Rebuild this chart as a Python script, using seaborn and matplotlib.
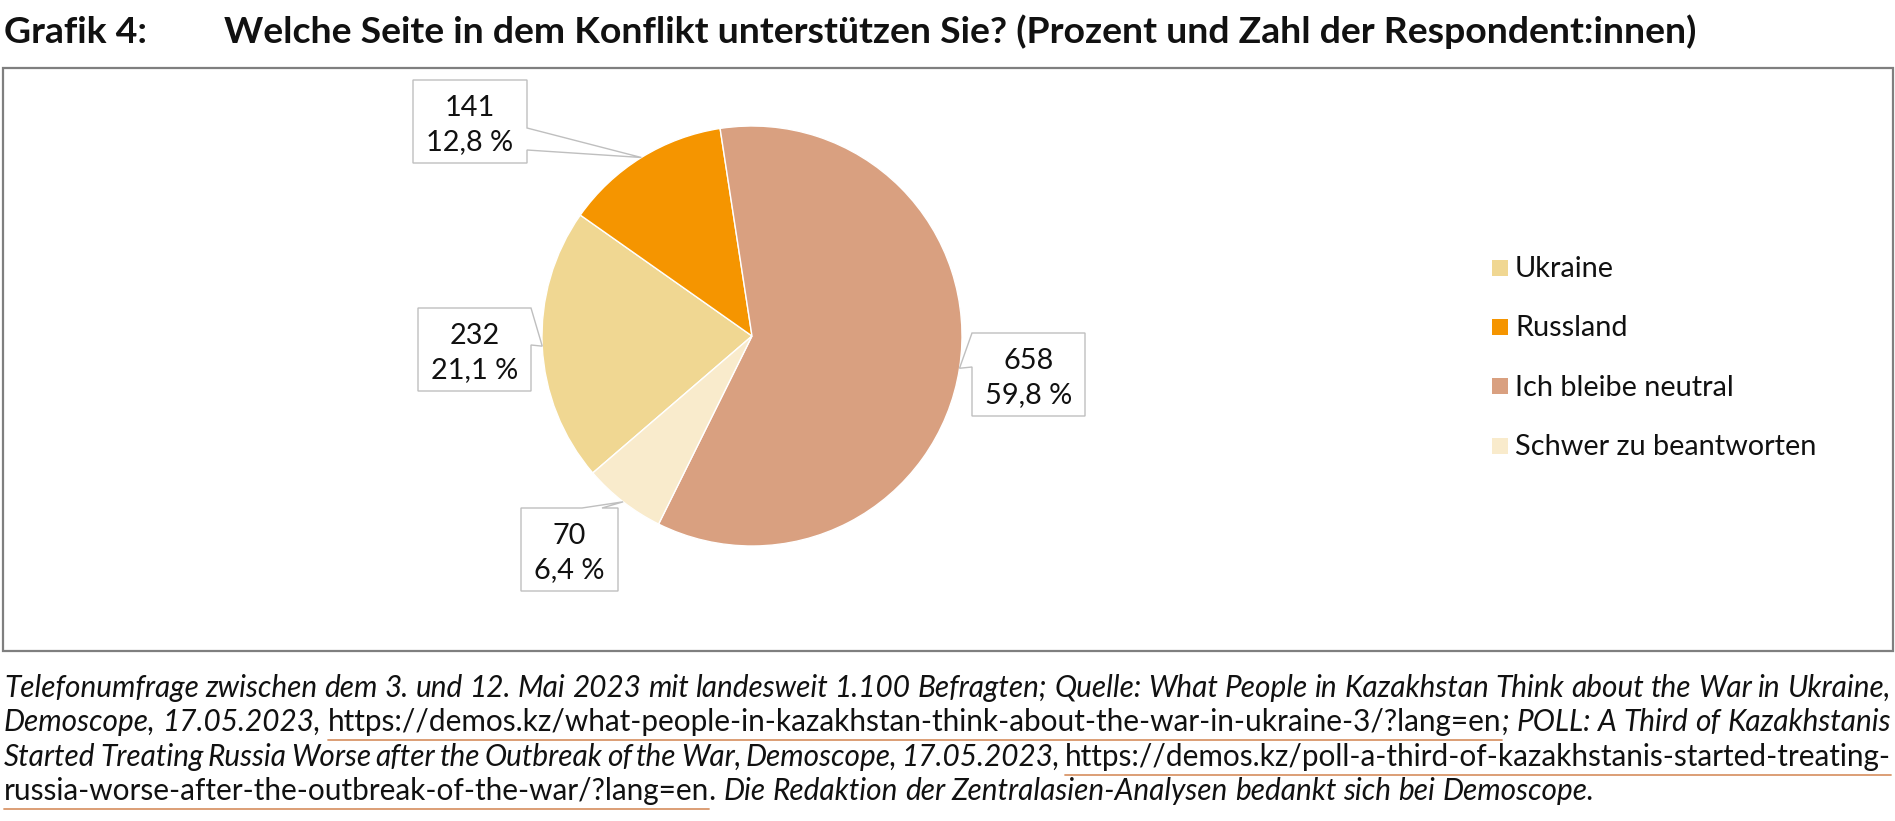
import matplotlib
matplotlib.use("Agg")
import matplotlib.pyplot as plt
from matplotlib.patches import Rectangle, Polygon
from matplotlib.lines import Line2D
import numpy as np
import seaborn as sns

# ---------------- data ----------------
categories = ["Ukraine", "Russland", "Ich bleibe neutral", "Schwer zu beantworten"]
counts = [232, 141, 658, 70]
percent_labels = ["21,1 %", "12,8 %", "59,8 %", "6,4 %"]
colors = ["#F0D792", "#F59500", "#D9A080", "#F9EBCC"]

title_prefix = "Grafik 4:"
title_text = "Welche Seite in dem Konflikt unterstützen Sie? (Prozent und Zahl der Respondent:innen)"

footer_lines = [
    [("Telefonumfrage zwischen dem 3. und 12. Mai 2023 mit landesweit 1.100 Befragten; Quelle: What People in Kazakhstan Think about the War in Ukraine,", "i")],
    [("Demoscope, 17.05.2023, ", "i"),
     ("https://demos.kz/what-people-in-kazakhstan-think-about-the-war-in-ukraine-3/?lang=en", "l"),
     ("; POLL: A Third of Kazakhstanis", "i")],
    [("Started Treating Russia Worse after the Outbreak of the War, Demoscope, 17.05.2023, ", "i"),
     ("https://demos.kz/poll-a-third-of-kazakhstanis-started-treating-", "l")],
    [("russia-worse-after-the-outbreak-of-the-war/?lang=en", "l"),
     (". Die Redaktion der Zentralasien-Analysen bedankt sich bei Demoscope.", "i")],
]

# ---------------- setup ----------------
W, H, DPI = 1895, 821, 100
sns.set_theme(style="white")
plt.rcParams['font.family'] = ['Lato', 'DejaVu Sans']
palette = sns.color_palette(colors)

fig = plt.figure(figsize=(W / DPI, H / DPI), dpi=DPI)
fig.patch.set_facecolor("white")
renderer = fig.canvas.get_renderer()


def fx(x):
    return x / W


def fy(y):
    return 1 - y / H


_cache = {}


def text_width(s, fs, style="normal", weight="normal"):
    key = (s, fs, style, weight)
    if key not in _cache:
        t = fig.text(0, 0, s, fontsize=fs, style=style, weight=weight)
        _cache[key] = t.get_window_extent(renderer).width
        t.remove()
    return _cache[key]


# ---------------- outer frame ----------------
fig.patches.append(Rectangle((fx(3), fy(651)), 1890 / W, 583 / H, fill=False,
                             edgecolor="#7F7F7F", linewidth=1.6,
                             transform=fig.transFigure, zorder=0))

# ---------------- title ----------------
t0 = 24
tw = text_width(title_text, t0, weight="bold")
tfs = t0 * 1474 / tw
fig.text(fx(4), fy(43), title_prefix, fontsize=tfs, weight="bold", va="baseline", color="#111111")
fig.text(fx(224), fy(43), title_text, fontsize=tfs, weight="bold", va="baseline", color="#111111")

# ---------------- pie ----------------
cx, cy, R = 752, 336, 210
ax = fig.add_axes([fx(cx - R), fy(cy + R), 2 * R / W, 2 * R / H])
wedges, _ = ax.pie(counts, colors=palette, startangle=220.7, counterclock=False,
                   wedgeprops=dict(edgecolor="white", linewidth=1.0))
ax.set_xlim(-1, 1)
ax.set_ylim(-1, 1)
ax.axis("off")

# label boxes (layout)
boxes = {
    "Ukraine": ((418, 308, 531, 391), "right", (308, 345)),
    "Russland": ((413, 80, 527, 163), "right", (128, 150)),
    "Ich bleibe neutral": ((972, 333, 1085, 416), "left", (333, 367)),
    "Schwer zu beantworten": ((521, 508, 618, 591), "top", (582, 602)),
}
label_fs = 20.8
for cat, n, pct, w in zip(categories, counts, percent_labels, wedges):
    th = np.deg2rad((w.theta1 + w.theta2) / 2)
    axp, ayp = cx + R * np.cos(th), cy - R * np.sin(th)
    (x0, y0, x1, y1), side, (b1, b2) = boxes[cat]
    if side == "right":
        pts = [(x0, y0), (x1, y0), (x1, b1), (axp, ayp), (x1, b2), (x1, y1), (x0, y1)]
    elif side == "left":
        pts = [(x0, y0), (x1, y0), (x1, y1), (x0, y1), (x0, b2), (axp, ayp), (x0, b1)]
    else:
        pts = [(x0, y0), (b1, y0), (axp, ayp), (b2, y0), (x1, y0), (x1, y1), (x0, y1)]
    fig.patches.append(Polygon([(fx(a), fy(b)) for a, b in pts], closed=True,
                               facecolor="white", edgecolor="#BFBFBF", linewidth=1.0,
                               transform=fig.transFigure, zorder=2))
    xc = (x0 + x1) / 2
    fig.text(fx(xc), fy(y0 + 35.5), str(n), fontsize=label_fs, ha="center", va="baseline",
             color="#111111", zorder=3)
    fig.text(fx(xc), fy(y0 + 70), pct, fontsize=label_fs, ha="center", va="baseline",
             color="#111111", zorder=3)

# ---------------- legend ----------------
leg_fs = 20.8
for i, (cat, col) in enumerate(zip(categories, palette)):
    base = 276.7 + i * 59.4
    fig.patches.append(Rectangle((fx(1492), fy(base - 1)), 16 / W, 16 / H,
                                 facecolor=col, edgecolor="none",
                                 transform=fig.transFigure))
    fig.text(fx(1515), fy(base), cat, fontsize=leg_fs, va="baseline", color="#111111")


# ---------------- footer ----------------
def tokenize(runs):
    words, cur = [], []
    for txt, st in runs:
        parts = txt.split(" ")
        for k, p in enumerate(parts):
            if k > 0:
                if cur:
                    words.append(cur)
                cur = []
            if p:
                cur.append((p, st))
    if cur:
        words.append(cur)
    return words


def seg_style(st):
    return "italic" if st == "i" else "normal"


def word_width(word, fs):
    return sum(text_width(s, fs, seg_style(st)) for s, st in word)


def space_width(fs):
    return text_width("a a", fs, "italic") - text_width("aa", fs, "italic")


f0 = 16
w4 = tokenize(footer_lines[3])
nat = sum(word_width(w, f0) for w in w4) + space_width(f0) * (len(w4) - 1)
ffs = f0 * 1594 / nat

xl, xr = 4, 1891
for li, runs in enumerate(footer_lines):
    yb = 696.5 + li * 34.6
    words = tokenize(runs)
    ww = [word_width(w, ffs) for w in words]
    if li < len(footer_lines) - 1:
        gap = (xr - xl - sum(ww)) / (len(words) - 1)
    else:
        gap = space_width(ffs)
    x = xl
    for w, wwid in zip(words, ww):
        for s, st in w:
            sw = text_width(s, ffs, seg_style(st))
            fig.text(fx(x), fy(yb), s, fontsize=ffs, style=seg_style(st),
                     va="baseline", color="#111111")
            if st == "l":
                fig.lines.append(Line2D([fx(x), fx(x + sw)], [fy(yb + 9), fy(yb + 9)],
                                        transform=fig.transFigure, color="#D9966A",
                                        linewidth=1.3))
            x += sw
        x += gap

fig.savefig("out.png", dpi=DPI)
